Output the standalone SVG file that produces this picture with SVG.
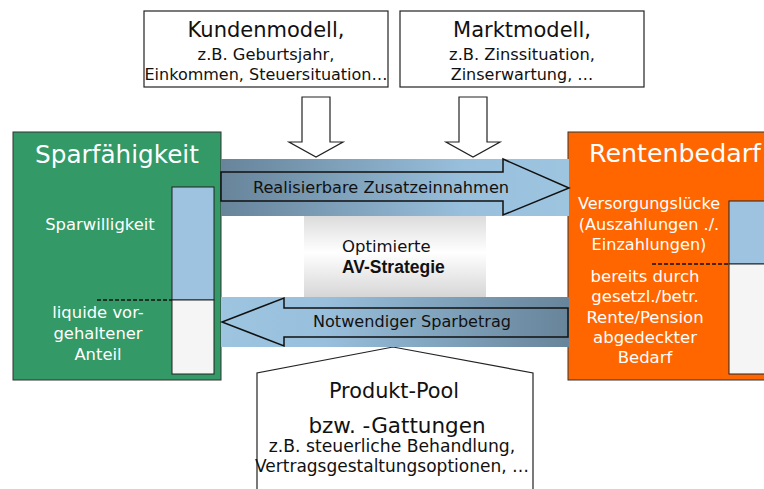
<svg xmlns="http://www.w3.org/2000/svg" width="764" height="489" viewBox="0 0 764 489">
  <defs>
    <linearGradient id="gradRight" x1="0" y1="0" x2="1" y2="0">
      <stop offset="0" stop-color="#67849a"/>
      <stop offset="0.7" stop-color="#98bfdc"/>
      <stop offset="1" stop-color="#9dc5e0"/>
    </linearGradient>
    <linearGradient id="gradLeft" x1="0" y1="0" x2="1" y2="0">
      <stop offset="0" stop-color="#9dc5e0"/>
      <stop offset="0.3" stop-color="#98bfdc"/>
      <stop offset="1" stop-color="#67849a"/>
    </linearGradient>
    <linearGradient id="gradCenter" x1="0" y1="0" x2="0" y2="1">
      <stop offset="0" stop-color="#dcdcdc"/>
      <stop offset="0.45" stop-color="#ffffff"/>
      <stop offset="1" stop-color="#d6d6d6"/>
    </linearGradient>
    <style>
      .box { fill: #ffffff; stroke: #222222; stroke-width: 1.2; }
      .txt { font-family: "DejaVu Sans", "Noto Sans", sans-serif; fill: #111111; text-anchor: middle; }
      .wtxt { font-family: "DejaVu Sans", "Noto Sans", sans-serif; fill: #ffffff; text-anchor: middle; }
      .arrow { stroke: #111111; stroke-width: 1.5; stroke-linejoin: miter; }
      .hollow { fill: #ffffff; stroke: #222222; stroke-width: 1.2; }
      .dash { stroke: #111111; stroke-width: 1.3; stroke-dasharray: 4 2; fill: none; }
      .barTop { fill: #9dc3e0; stroke: #222222; stroke-width: 1; }
      .barBot { fill: #f5f5f5; stroke: #222222; stroke-width: 1; }
    </style>
  </defs>

  <!-- Customer model -->
  <g id="kundenmodell">
    <rect class="box" x="144" y="11" width="244" height="76"/>
    <text class="txt" x="266" y="37" font-size="21">Kundenmodell,</text>
    <text class="txt" x="266" y="60" font-size="16.3">z.B. Geburtsjahr,</text>
    <text class="txt" x="266" y="80" font-size="16">Einkommen, Steuersituation…</text>
  </g>

  <!-- Market model -->
  <g id="marktmodell">
    <rect class="box" x="400" y="11" width="244" height="76"/>
    <text class="txt" x="522" y="37" font-size="21">Marktmodell,</text>
    <text class="txt" x="522" y="60" font-size="16.3">z.B. Zinssituation,</text>
    <text class="txt" x="522" y="80" font-size="16">Zinserwartung, …</text>
  </g>

  <!-- Savings capacity -->
  <g id="sparfaehigkeit">
    <rect x="13" y="132" width="208" height="248" fill="#339966" stroke="#333333" stroke-width="1"/>
    <text class="wtxt" x="117" y="163" font-size="24.7">Sparfähigkeit</text>
    <text class="wtxt" x="100" y="230" font-size="16.4">Sparwilligkeit</text>
    <text class="wtxt" x="98" y="318" font-size="16.4">liquide vor-</text>
    <text class="wtxt" x="98" y="339" font-size="16.4">gehaltener</text>
    <text class="wtxt" x="98" y="360" font-size="16.4">Anteil</text>
    <rect class="barTop" x="172" y="187" width="42" height="113"/>
    <rect class="barBot" x="172" y="300" width="42" height="74"/>
    <line class="dash" x1="97" y1="300" x2="172" y2="300"/>
  </g>

  <!-- Pension need -->
  <g id="rentenbedarf">
    <rect x="568" y="132" width="200" height="248" fill="#ff6600" stroke="#333333" stroke-width="1"/>
    <text class="wtxt" x="675" y="162" font-size="25.3">Rentenbedarf</text>
    <text class="wtxt" x="649" y="209" font-size="16.1">Versorgungslücke</text>
    <text class="wtxt" x="649" y="230" font-size="16.1">(Auszahlungen ./.</text>
    <text class="wtxt" x="649" y="250" font-size="16.1">Einzahlungen)</text>
    <text class="wtxt" x="645" y="282" font-size="16.5">bereits durch</text>
    <text class="wtxt" x="645" y="302" font-size="16.5">gesetzl./betr.</text>
    <text class="wtxt" x="645" y="323" font-size="16.5">Rente/Pension</text>
    <text class="wtxt" x="645" y="343" font-size="16.5">abgedeckter</text>
    <text class="wtxt" x="645" y="363" font-size="16.5">Bedarf</text>
    <rect class="barTop" x="729" y="201" width="40" height="63"/>
    <rect class="barBot" x="729" y="264" width="40" height="110"/>
    <line class="dash" x1="652" y1="264" x2="729" y2="264"/>
  </g>

  <!-- Optimised strategy -->
  <g id="strategie">
    <rect x="304" y="216" width="182" height="81" fill="url(#gradCenter)"/>
    <text x="342" y="252" font-size="16.5" font-family="DejaVu Sans, Noto Sans, sans-serif" fill="#111111">Optimierte</text>
    <text x="342" y="273" font-size="17.5" font-weight="bold" font-family="Liberation Sans, Arial, sans-serif" fill="#111111">AV-Strategie</text>
  </g>

  <!-- Product pool -->
  <g id="produktpool">
    <path class="hollow" d="M257,495 L257,373 L393,347 L533,373 L533,495"/>
    <text class="txt" x="394" y="398" font-size="20.8">Produkt-Pool</text>
    <text class="txt" x="397" y="433" font-size="21.5">bzw. -Gattungen</text>
    <text class="txt" x="392" y="452" font-size="17.2">z.B. steuerliche Behandlung,</text>
    <text class="txt" x="392" y="472" font-size="17">Vertragsgestaltungsoptionen, …</text>
  </g>

  <!-- Connectors -->
  <g id="connectors">
    <path class="hollow" d="M302,97 L330,97 L330,142 L343,142 L316,157 L289,142 L302,142 Z"/>
    <path class="hollow" d="M459,97 L487,97 L487,142 L500,142 L473,157 L446,142 L459,142 Z"/>

    <rect x="221" y="159" width="348" height="57" fill="url(#gradRight)"/>
    <path class="arrow" fill="url(#gradRight)" d="M221,172 L503,172 L503,159 L569,188 L503,215 L503,201 L221,201 Z"/>
    <text class="txt" x="381" y="193" font-size="16.2">Realisierbare Zusatzeinnahmen</text>

    <rect x="221" y="297" width="348" height="50" fill="url(#gradLeft)"/>
    <path class="arrow" fill="url(#gradLeft)" d="M568,308 L284,308 L284,298 L222,322 L284,346 L284,337 L568,337 Z"/>
    <text class="txt" x="412" y="327" font-size="16.1">Notwendiger Sparbetrag</text>
  </g>
</svg>
